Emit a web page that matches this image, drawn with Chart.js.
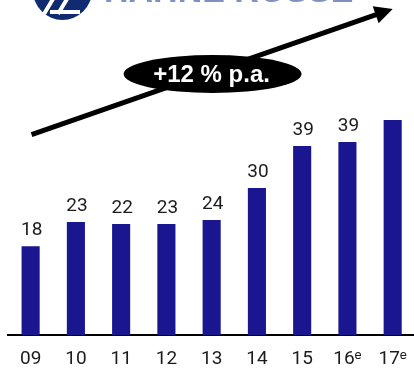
<!DOCTYPE html>
<html>
<head>
<meta charset="utf-8">
<script src="https://cdn.jsdelivr.net/npm/chart.js@4/dist/chart.umd.min.js"></script>
<style>
  html, body { margin: 0; padding: 0; background: #fff; overflow: hidden; width: 414px; height: 376px; }
  canvas { display: block; }
</style>
</head>
<body>
<canvas id="c" width="420" height="376"></canvas>
<script>
// ---- data ----
const categories = ["09", "10", "11", "12", "13", "14", "15", "16ᵉ", "17ᵉ"];
const values = [18, 22.9, 22.5, 22.5, 23.3, 29.8, 38.3, 39.1, 43.6];
const valueLabels = ["18", "23", "22", "23", "24", "30", "39", "39", ""];
const growthLabel = "+12 % p.a.";
const logoText = "HAHNE ROSSE";

const BAR = "#1a1690";
const TXT = "#1c1c1c";
const FONT = "Roboto, 'Liberation Sans', sans-serif";

const decorPlugin = {
  id: "decor",
  afterDatasetsDraw(chart) {
    const ctx = chart.ctx;
    const meta = chart.getDatasetMeta(0);
    ctx.save();
    ctx.fillStyle = TXT;
    ctx.font = "19px " + FONT;
    ctx.textAlign = "center";
    ctx.textBaseline = "middle";
    meta.data.forEach((bar, i) => {
      if (valueLabels[i]) ctx.fillText(valueLabels[i], bar.x + 1, bar.y - 16);
    });
    ctx.restore();
  },
  afterDraw(chart) {
    const ctx = chart.ctx;
    const xs = chart.scales.x, ys = chart.scales.y;
    // growth arrow
    const x0 = xs.getPixelForValue(0.02), y0 = ys.getPixelForValue(40.6);
    const x1 = xs.getPixelForValue(8.0), y1 = ys.getPixelForValue(66.1);
    const ang = Math.atan2(y1 - y0, x1 - x0);
    const headLen = 18, headHalf = 9;
    const bx = x1 - Math.cos(ang) * headLen, by = y1 - Math.sin(ang) * headLen;
    ctx.save();
    ctx.strokeStyle = "#000";
    ctx.lineWidth = 5;
    ctx.beginPath();
    ctx.moveTo(x0, y0);
    ctx.lineTo(bx + Math.cos(ang) * 2, by + Math.sin(ang) * 2);
    ctx.stroke();
    ctx.fillStyle = "#000";
    ctx.beginPath();
    ctx.moveTo(x1, y1);
    ctx.lineTo(bx - Math.sin(ang) * headHalf, by + Math.cos(ang) * headHalf);
    ctx.lineTo(bx + Math.sin(ang) * headHalf, by - Math.cos(ang) * headHalf);
    ctx.closePath();
    ctx.fill();
    // ellipse with growth label
    const ex = xs.getPixelForValue(4.02), ey = ys.getPixelForValue(52.9);
    ctx.beginPath();
    ctx.ellipse(ex, ey, 89, 19, 0, 0, Math.PI * 2);
    ctx.fill();
    ctx.fillStyle = "#fff";
    ctx.font = "bold 24px 'Liberation Sans', Arial, sans-serif";
    ctx.textAlign = "center";
    ctx.textBaseline = "middle";
    ctx.fillText(growthLabel, ex - 1, ey + 1);
    // logo (cut off at top)
    ctx.fillStyle = "#102b6f";
    ctx.beginPath();
    ctx.arc(62.5, -9.5, 29.5, 0, Math.PI * 2);
    ctx.fill();
    ctx.strokeStyle = "#fff";
    ctx.lineWidth = 4;
    ctx.beginPath();
    ctx.moveTo(44, 14); ctx.lineTo(56, -6);
    ctx.moveTo(58, 14); ctx.lineTo(70, -6);
    ctx.moveTo(50, 12); ctx.lineTo(80, 12);
    ctx.stroke();
    ctx.fillStyle = "#8090c0";
    ctx.font = "bold 34px 'Liberation Sans', Arial, sans-serif";
    ctx.textAlign = "left";
    ctx.textBaseline = "alphabetic";
    ctx.fillText(logoText, 104, 2);
    ctx.restore();
  }
};

new Chart(document.getElementById("c"), {
  type: "bar",
  data: {
    labels: categories,
    datasets: [{
      data: values,
      backgroundColor: BAR,
      borderWidth: 0,
      barPercentage: 0.4,
      categoryPercentage: 1.0
    }]
  },
  options: {
    responsive: false,
    animation: false,
    devicePixelRatio: 1,
    layout: { padding: { left: 8, right: 2, top: 39, bottom: 0 } },
    plugins: { legend: { display: false }, tooltip: { enabled: false } },
    scales: {
      x: {
        grid: { display: false, drawTicks: false },
        border: { display: true, color: "#000", width: 2 },
        ticks: {
          color: TXT,
          font: { family: FONT, size: 19 },
          padding: 13,
          maxRotation: 0,
          autoSkip: false
        },
        afterFit(s) { s.height = 41; }
      },
      y: { display: false, min: 0, max: 60 }
    }
  },
  plugins: [decorPlugin]
});
</script>
</body>
</html>
